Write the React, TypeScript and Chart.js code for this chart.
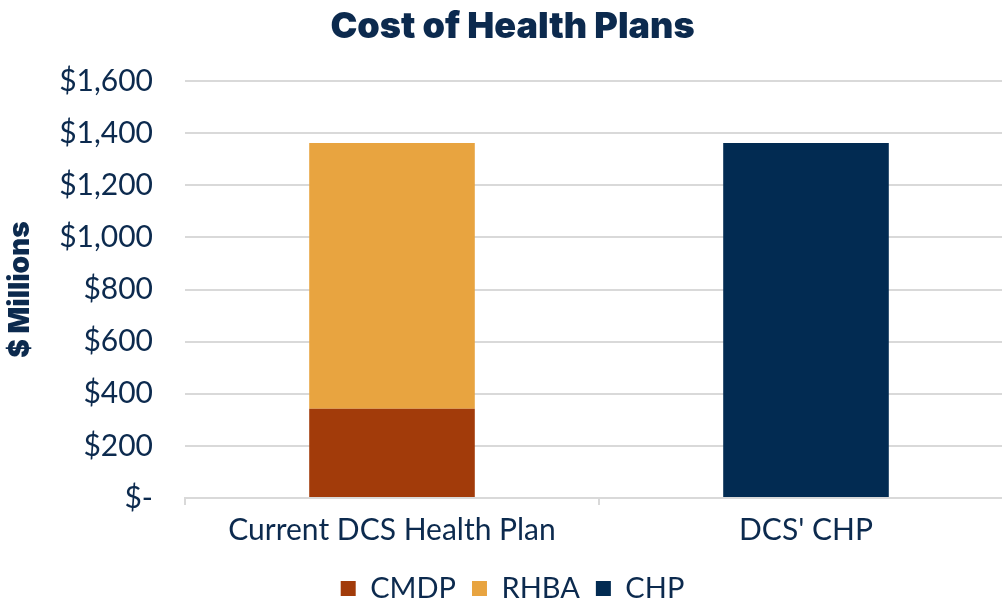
import React, { useEffect, useRef } from "react";
import { Chart, registerables } from "chart.js";

Chart.register(...registerables);

const categories = ["Current DCS Health Plan", "DCS' CHP"];
const cmdpValues = [342, null];
const rhbaValues = [1020, null];
const chpValues = [null, 1362];
const yTicks = [0, 200, 400, 600, 800, 1000, 1200, 1400, 1600];

const NAVY = "#0c2a4e";
const PAD_LEFT = 12;

export default function App() {
  const ref = useRef<HTMLCanvasElement>(null);
  useEffect(() => {
    const canvas = ref.current!;
    const chart = new Chart(canvas, {
      type: "bar",
      data: {
        labels: categories,
        datasets: [
          { label: "CMDP", data: cmdpValues, backgroundColor: "#a23b0a" },
          { label: "RHBA", data: rhbaValues, backgroundColor: "#e8a440" },
          { label: "CHP", data: chpValues, backgroundColor: "#022b52" },
        ],
      },
      options: {
        responsive: false,
        animation: false,
        devicePixelRatio: 1,
        layout: { padding: { left: PAD_LEFT, right: 0, top: 0, bottom: 0 } },
        datasets: { bar: { categoryPercentage: 1, barPercentage: 0.4 } },
        plugins: {
          tooltip: { enabled: false },
          title: {
            display: true,
            text: "Cost of Health Plans",
            color: NAVY,
            font: { family: "Inter", size: 36, weight: "900" },
            padding: { top: 5.4, bottom: 32.4 },
          },
          legend: {
            position: "bottom",
            labels: {
              color: NAVY,
              font: { family: "Lato", size: 29 },
              boxWidth: 15,
              boxHeight: 15,
              padding: 16,
            },
          },
        },
        scales: {
          x: {
            stacked: true,
            offset: true,
            grid: {
              offset: true,
              drawOnChartArea: false,
              drawTicks: true,
              tickLength: 7,
              color: "#d9d9d9",
              lineWidth: 2,
            },
            border: { display: true, color: "#d9d9d9", width: 2 },
            ticks: {
              color: NAVY,
              font: { family: "Lato", size: 30 },
              padding: 7,
            },
            afterFit: (s: any) => {
              s.height = 60;
            },
          },
          y: {
            stacked: true,
            min: 0,
            max: 1600,
            afterBuildTicks: (s: any) => {
              s.ticks = yTicks.map((v) => ({ value: v }));
            },
            grid: { color: "#d9d9d9", lineWidth: 2, drawTicks: false },
            border: { display: false },
            ticks: {
              color: NAVY,
              font: { family: "Lato", size: 30 },
              padding: 32,
              callback: (v: any) =>
                Number(v) === 0 ? "$-" : "$" + Number(v).toLocaleString("en-US"),
            },
            title: {
              display: true,
              text: "$ Millions",
              color: NAVY,
              font: { family: "Inter", size: 28, weight: "900", lineHeight: 0.6 },
              padding: { top: 0, bottom: 0 },
            },
            afterFit: (s: any) => {
              s.width = 185 - PAD_LEFT;
            },
          },
        },
      },
    });
    return () => chart.destroy();
  }, []);
  return (
    <div
      style={{
        position: "fixed",
        left: 0,
        top: 0,
        width: 1002,
        height: 600,
        overflow: "hidden",
        background: "#fff",
      }}
    >
      <canvas ref={ref} width={1013} height={613} style={{ width: 1013, height: 613, display: "block" }} />
    </div>
  );
}
